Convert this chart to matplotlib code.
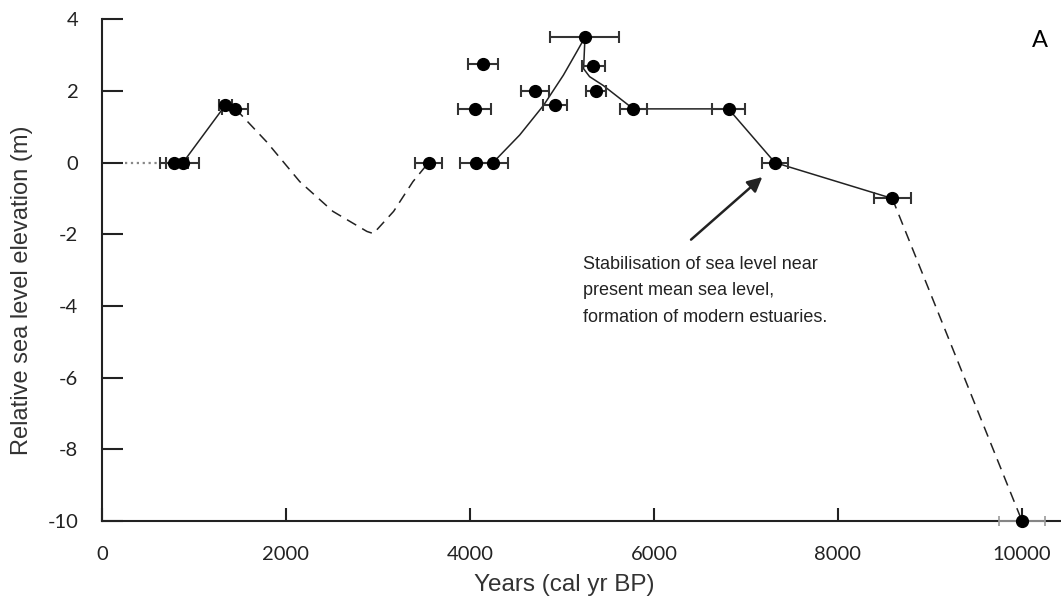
import matplotlib
matplotlib.use("Agg")
import matplotlib.pyplot as plt

plt.rcParams["axes.unicode_minus"] = False

# dated sea-level indicators (cal yr BP, m, +/- yr)
pt_age = [780, 880, 1340, 1450, 3550, 4070, 4250, 4140, 4050, 4710, 4925,
          5250, 5340, 5370, 5775, 6810, 7315, 8590]
pt_elev = [0, 0, 1.6, 1.5, 0, 0, 0, 2.75, 1.5, 2.0, 1.6,
           3.5, 2.7, 2.0, 1.5, 1.5, 0, -1.0]
pt_err = [150, 180, 70, 140, 145, 175, 165, 165, 180, 150, 127,
          375, 125, 105, 148, 178, 145, 200]
old_age, old_elev, old_err = [10000], [-10], [250]

# interpreted curve pieces
dot_age, dot_elev = [250, 620], [0, 0]
rise1_age, rise1_elev = [880, 1340], [0, 1.6]
dip_age = [1450, 1500, 1790, 2150, 2510, 2880, 2950, 3170, 3380, 3550]
dip_elev = [1.5, 1.37, 0.58, -0.53, -1.36, -1.92, -1.98, -1.36, -0.53, 0]
rise2_age = [4250, 4540, 4800, 5015, 5160, 5250]
rise2_elev = [0, 0.77, 1.6, 2.44, 3.09, 3.5]
fall_age = [5250, 5235, 5300, 5450, 5775, 6810, 7315, 8590]
fall_elev = [3.5, 2.62, 2.4, 2.15, 1.5, 1.5, 0, -1.0]
early_age, early_elev = [8590, 10000], [-1.0, -10]

note = "Stabilisation of sea level near\npresent mean sea level,\nformation of modern estuaries."

fig = plt.figure(figsize=(10.61, 6.03), dpi=100)
ax = fig.add_axes([0.0961, 0.136, 0.9039, 0.832])

ax.plot(dot_age, dot_elev, ls=":", color="#888888", lw=1.6)
ax.plot(rise1_age, rise1_elev, color="#222222", lw=1.1)
ax.plot(dip_age, dip_elev, color="#222222", lw=1.1, dashes=(7, 4.5))
ax.plot(rise2_age, rise2_elev, color="#222222", lw=1.1)
ax.plot(fall_age, fall_elev, color="#222222", lw=1.1)
ax.plot(early_age, early_elev, color="#222222", lw=1.1, dashes=(7, 4.5))

ax.errorbar(pt_age, pt_elev, xerr=pt_err, fmt="o", color="black", ms=8.5,
            ecolor="#333333", elinewidth=1.5, capsize=4.5, capthick=1.5)
ax.errorbar(old_age, old_elev, xerr=old_err, fmt="o", color="black", ms=8.5,
            ecolor="#999999", elinewidth=1.2, capsize=3.5, capthick=1.2,
            clip_on=False, zorder=5)

ax.annotate("", xy=(7200, -0.35), xytext=(6380, -2.2),
            arrowprops=dict(arrowstyle="-|>", color="#222222", lw=1.8,
                            mutation_scale=22))
ax.text(5228, -3.58, note, fontsize=13, family="Liberation Sans",
        color="#222222", va="center", ha="left", linespacing=1.7)
ax.text(10200, 3.4, "A", fontsize=17, family="Lato", color="black",
        ha="center", va="center")

ax.set_xlim(0, 10424)
ax.set_ylim(-10, 4)
ax.set_xticks([0, 2000, 4000, 6000, 8000, 10000])
ax.set_yticks([4, 2, 0, -2, -4, -6, -8, -10])
for s in ["top", "right"]:
    ax.spines[s].set_visible(False)
for s in ["left", "bottom"]:
    ax.spines[s].set_linewidth(1.5)
    ax.spines[s].set_color("#222222")
ax.tick_params(axis="y", direction="in", length=15, width=1.5, pad=17,
               labelsize=14.5, colors="#222222")
ax.tick_params(axis="x", direction="in", length=9.5, width=1.5, pad=18,
               labelsize=14.5, colors="#222222")
for lab in ax.get_xticklabels() + ax.get_yticklabels():
    lab.set_family("Lato")

ax.set_xlabel("Years (cal yr BP)", fontsize=17.5, family="Liberation Sans",
              color="#333333")
ax.set_ylabel("Relative sea level elevation (m)", fontsize=17,
              family="Liberation Sans", color="#333333")
ax.xaxis.set_label_coords(0.482, -0.106)
ax.yaxis.set_label_coords(-0.072, 0.459)

fig.savefig("out.png", dpi=100)
